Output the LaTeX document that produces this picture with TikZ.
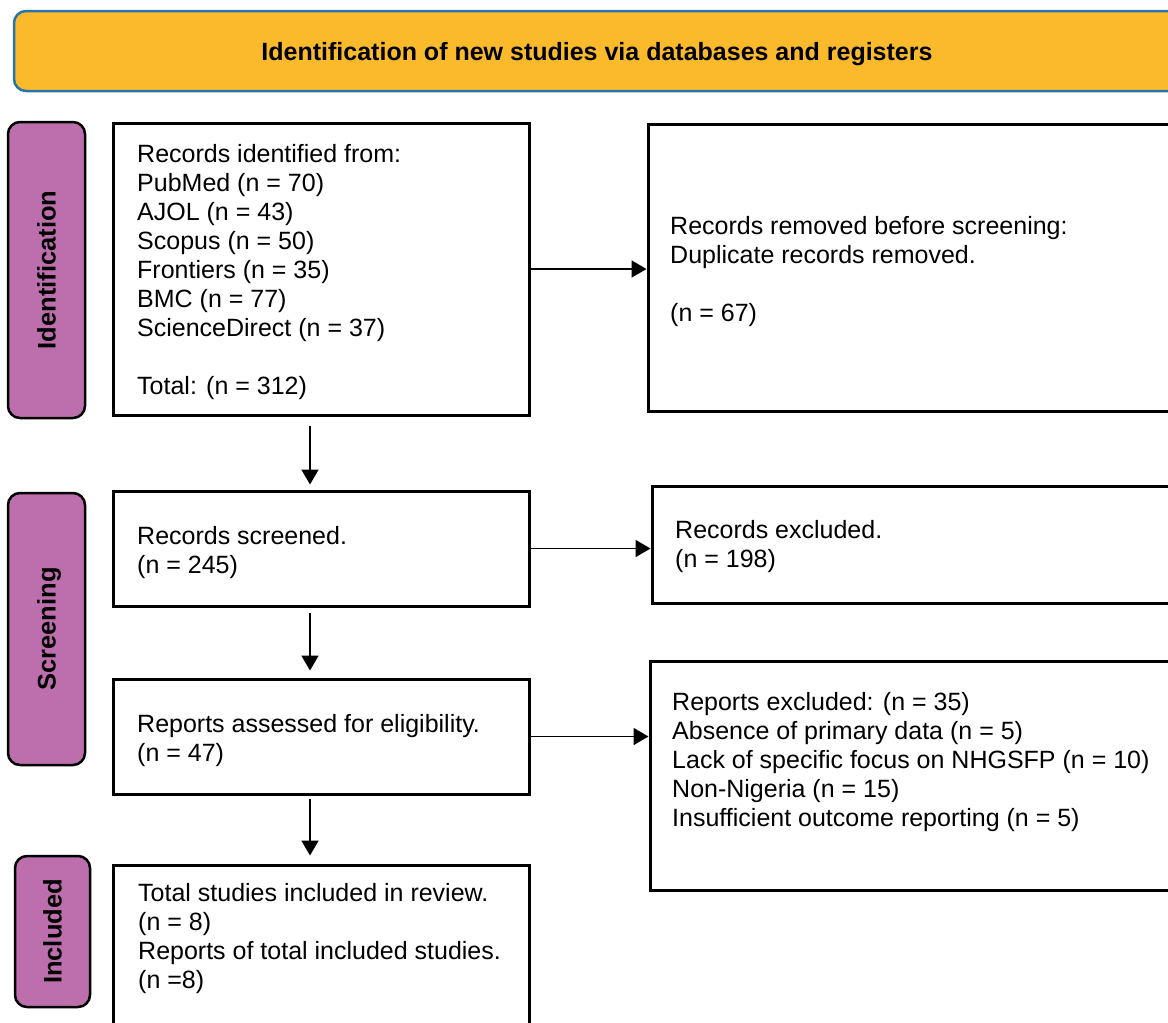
\documentclass[tikz,border=0pt]{standalone}
\usepackage{fontspec}
\setmainfont{Liberation Sans}
\usetikzlibrary{arrows.meta}
\definecolor{bannerfill}{RGB}{251,186,44}
\definecolor{bannerline}{RGB}{38,117,170}
\definecolor{stagefill}{RGB}{189,111,173}
\begin{document}
\begin{tikzpicture}[x=1pt,y=-1pt,
  box/.style={draw=black, line width=3pt, fill=white, inner sep=0pt},
  stage/.style={draw=black, line width=2.5pt, fill=stagefill, rounded corners=12pt, inner sep=0pt, rotate=90, text height=18pt, text depth=0pt, font=\bfseries\fontsize{25.5pt}{29pt}\selectfont},
  banner/.style={draw=bannerline, line width=2.5pt, fill=bannerfill, rounded corners=12pt, inner sep=0pt, text height=18pt, text depth=0pt, font=\bfseries\fontsize{25pt}{29pt}\selectfont},
  txt/.style={anchor=north west, inner sep=0pt, align=left, font=\fontsize{25pt}{29pt}\selectfont},
  arr/.style={-{Triangle[length=15pt,width=17pt]}, line width=1.8pt}
]
\useasboundingbox (0,0) rectangle (1168,1023);
\clip (0,0) rectangle (1168,1023);

% banner
\node[banner, minimum width=1166pt, minimum height=80pt] (ban) at (597,51) {Identification of new studies via databases and registers};

% stage labels
\node[stage, minimum width=296pt, minimum height=77pt] (s1) at (46.5,270) {Identification};
\node[stage, minimum width=272pt, minimum height=77pt] (s2) at (46.5,629) {Screening};
\node[stage, minimum width=151pt, minimum height=75pt] (s3) at (52.5,931.5) {Included};

% boxes
\node[box, minimum width=416pt, minimum height=292pt] (b1) at (321,269) {};
\node[box, minimum width=552pt, minimum height=287pt] (b2) at (924,267.5) {};
\node[box, minimum width=416pt, minimum height=115pt] (b3) at (321,548.5) {};
\node[box, minimum width=548pt, minimum height=117pt] (b4) at (926,544.5) {};
\node[box, minimum width=416pt, minimum height=115pt] (b5) at (321,736.5) {};
\node[box, minimum width=550pt, minimum height=229pt] (b6) at (925,775.5) {};
\node[box, minimum width=416pt, minimum height=195pt] (b7) at (321,962.5) {};

% texts
\node[txt] (t1) at (137,141.7) {\strut Records identified from:\\
\strut PubMed (n = 70)\\
\strut AJOL (n = 43)\\
\strut Scopus (n = 50)\\
\strut Frontiers (n = 35)\\
\strut BMC (n = 77)\\
\strut ScienceDirect (n = 37)\\
\strut\\
\strut Total: (n = 312)};
\node[txt] (t2) at (670,213.7) {\strut Records removed before screening:\\
\strut Duplicate records removed.\\
\strut\\
\strut (n = 67)};
\node[txt] (t3) at (137,523.7) {\strut Records screened.\\
\strut (n = 245)};
\node[txt] (t4) at (675,517.7) {\strut Records excluded.\\
\strut (n = 198)};
\node[txt] (t5) at (137,711.7) {\strut Reports assessed for eligibility.\\
\strut (n = 47)};
\node[txt] (t6) at (672,689.7) {\strut Reports excluded: (n = 35)\\
\strut Absence of primary data (n = 5)\\
\strut Lack of specific focus on NHGSFP (n = 10)\\
\strut Non-Nigeria (n = 15)\\
\strut Insufficient outcome reporting (n = 5)};
\node[txt] (t7) at (138,880.7) {\strut Total studies included in review.\\
\strut (n = 8)\\
\strut Reports of total included studies.\\
\strut (n =8)};

% connectors
\coordinate (ax) at (310,0);
\draw[arr] (b1.east) -- (b1.east -| b2.west);
\draw[arr] (b3.east) -- (b3.east -| b4.west);
\draw[arr] (b5.east) -- (b5.east -| b6.west);
\draw[arr, shorten <=9pt, shorten >=5pt] (b1.south -| ax) -- (b3.north -| ax);
\draw[arr, shorten <=5pt, shorten >=7pt] (b3.south -| ax) -- (b5.north -| ax);
\draw[arr, shorten <=3pt, shorten >=8pt] (b5.south -| ax) -- (b7.north -| ax);
\end{tikzpicture}
\end{document}
